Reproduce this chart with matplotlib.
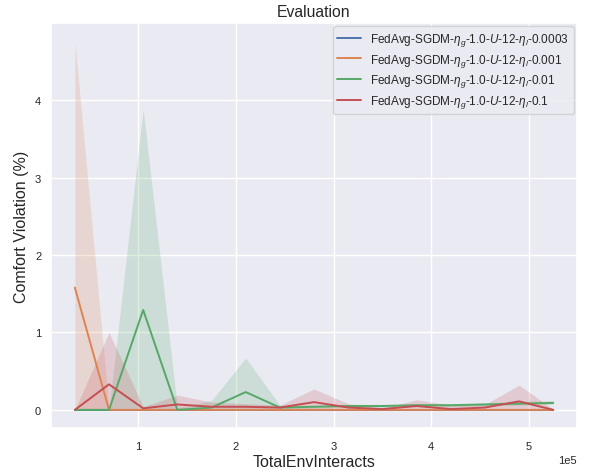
import matplotlib
matplotlib.use("Agg")
import matplotlib.pyplot as plt
import seaborn as sns

sns.set_theme(style="darkgrid")
plt.rcParams['font.family'] = ['Liberation Sans', 'DejaVu Sans']
plt.rcParams['mathtext.fontset'] = 'custom'
plt.rcParams['mathtext.rm'] = 'Liberation Sans'
plt.rcParams['mathtext.it'] = 'Liberation Sans:italic'

steps = [35000 * k for k in range(1, 16)]

lr_labels = ["0.0003", "0.001", "0.01", "0.1"]

# mean / min / max over runs
mean_0003 = [0.0] * 15
min_0003 = [0.0] * 15
max_0003 = [0.0] * 15

mean_001 = [1.58, 0.0, 0.0, 0.0, 0.0, 0.0, 0.0, 0.0, 0.0, 0.0, 0.0, 0.0, 0.0, 0.0, 0.0]
min_001 = [0.0] * 15
max_001 = [4.76, 0.02, 0.01, 0.01, 0.01, 0.01, 0.01, 0.01, 0.01, 0.01, 0.01, 0.01, 0.01, 0.01, 0.01]

mean_01 = [0.0, 0.0, 1.29, 0.0, 0.03, 0.23, 0.03, 0.04, 0.05, 0.05, 0.06, 0.06, 0.07, 0.08, 0.09]
min_01 = [0.0, 0.0, 0.0, 0.0, 0.0, 0.01, 0.01, 0.02, 0.03, 0.03, 0.04, 0.04, 0.05, 0.06, 0.07]
max_01 = [0.0, 0.0, 3.88, 0.03, 0.12, 0.67, 0.06, 0.06, 0.07, 0.07, 0.08, 0.08, 0.09, 0.11, 0.12]

mean_1 = [0.0, 0.33, 0.02, 0.07, 0.04, 0.04, 0.03, 0.10, 0.03, 0.01, 0.05, 0.01, 0.03, 0.11, 0.0]
min_1 = [0.0] * 15
max_1 = [0.0, 1.0, 0.04, 0.19, 0.1, 0.08, 0.06, 0.27, 0.08, 0.02, 0.13, 0.06, 0.07, 0.32, 0.01]

means = [mean_0003, mean_001, mean_01, mean_1]
mins = [min_0003, min_001, min_01, min_1]
maxs = [max_0003, max_001, max_01, max_1]

fig, ax = plt.subplots(figsize=(5.92, 4.77), dpi=100)
plt.subplots_adjust(left=0.086, right=0.975, top=0.95, bottom=0.1)

for i, lr in enumerate(lr_labels):
    label = r"FedAvg-SGDM-$\eta_g$-1.0-$U$-12-$\eta_l$-" + lr
    line, = ax.plot(steps, means[i], label=label, linewidth=1.4)
    ax.fill_between(steps, mins[i], maxs[i], color=line.get_color(), alpha=0.2, linewidth=0)

ax.set_title("Evaluation", fontsize=11.3, pad=5)
ax.set_xlabel("TotalEnvInteracts", fontsize=11.5, labelpad=2)
ax.set_ylabel("Comfort Violation (%)", fontsize=11.5, labelpad=4)
ax.tick_params(axis="x", labelsize=8, pad=3)
ax.tick_params(axis="y", labelsize=8, pad=1)
ax.ticklabel_format(axis="x", style="sci", scilimits=(0, 0))
ax.xaxis.get_offset_text().set_fontsize(8)
ax.legend(loc="upper right", fontsize=8.5, borderaxespad=0.3, labelspacing=0.3)

fig.savefig("out.png", dpi=100)
